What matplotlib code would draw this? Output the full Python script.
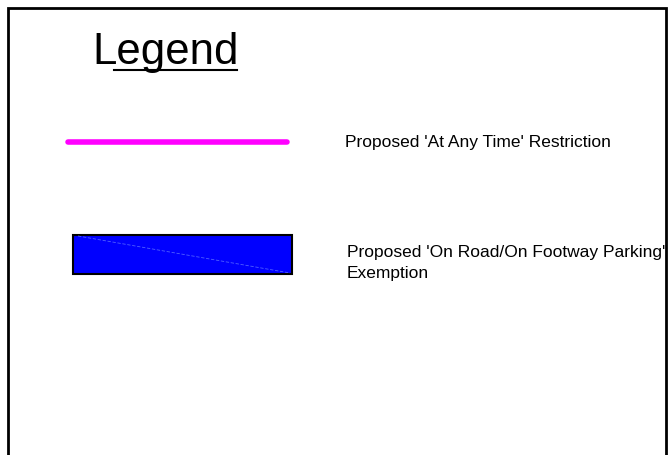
import matplotlib.pyplot as plt
import matplotlib.patches as mpatches

# ── Legend content ───────────────────────────────────────────
title = "Legend"
labels = ["Proposed 'At Any Time' Restriction",
          "Proposed 'On Road/On Footway Parking'\nExemption"]
line_color = "#ff00ff"
fill_color = "#0000ff"

plt.rcParams['font.family'] = ['Liberation Sans', 'DejaVu Sans']

fig = plt.figure(figsize=(6.68, 4.56), dpi=100)
ax = fig.add_axes([0, 0, 1, 1])
ax.set_xlim(0, 668)
ax.set_ylim(456, 0)
ax.axis('off')

# frame (open at the bottom)
ax.plot([7.5, 7.5, 666, 666], [460, 9, 9, 460], color='black', linewidth=2,
        solid_joinstyle='miter')

# title with partial underline
ax.text(92, 64, title, fontsize=31.5, ha='left', va='baseline')
ax.plot([114, 237], [71, 71], color='black', linewidth=1.5)

# magenta restriction line
ax.plot([68, 287], [143, 143], color=line_color, linewidth=4,
        solid_capstyle='round')
ax.text(345, 143, labels[0], fontsize=12.5, ha='left', va='center')

# blue exemption box
ax.add_patch(mpatches.Rectangle((73, 236), 219, 39, facecolor=fill_color,
                                edgecolor='black', linewidth=1.5))
ax.plot([78, 290], [237, 274], color='#4f5fff', linewidth=0.6,
        linestyle=(0, (4, 2)))
ax.text(347, 263, labels[1], fontsize=12.5, ha='left', va='center',
        linespacing=1.45)

plt.savefig("out.png", dpi=100, facecolor='white')
